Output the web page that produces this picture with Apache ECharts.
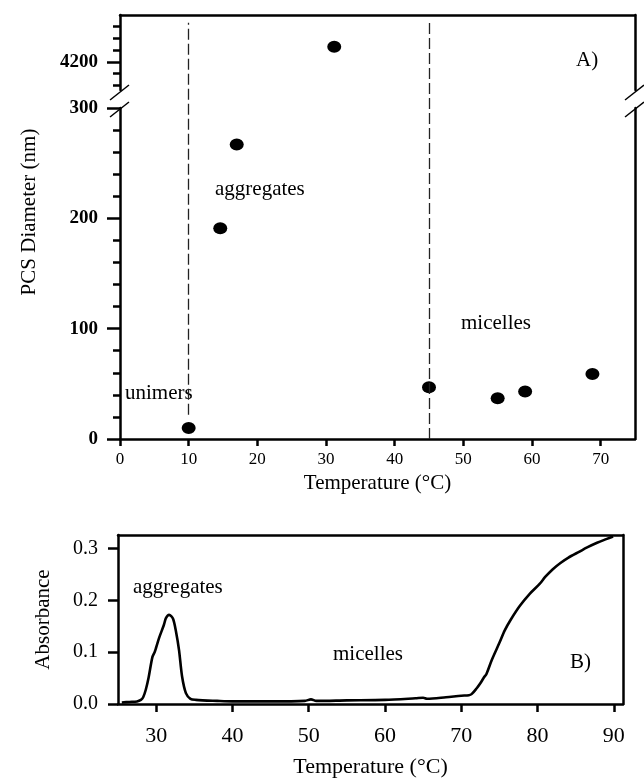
<!DOCTYPE html>
<html>
<head>
<meta charset="utf-8">
<script src="https://cdn.jsdelivr.net/npm/echarts@6/dist/echarts.min.js"></script>
<style>
html,body{margin:0;padding:0;background:#fff;}
#chart{width:644px;height:779px;}
</style>
</head>
<body>
<div id="chart"></div>
<script>
// ---------- Panel A data: PCS diameter vs temperature ----------
const pcsTempLow = [10, 14.6, 17, 45, 55, 59, 68.8];
const pcsDiamLow = [10, 191, 267, 47, 37, 43, 59];
const pcsTempHigh = [31.2];
const pcsDiamHigh = [4265];
const phaseBoundaries = [10, 45];
const xTicksA = [0, 10, 20, 30, 40, 50, 60, 70];
const yMajorHigh = [4200];
const yMinorHigh = [4100, 4150, 4250, 4300, 4350];

// ---------- Panel B data: absorbance vs temperature ----------
const absTemp = [25.5, 26.5, 27.5, 28, 28.3, 28.65, 29, 29.5, 29.8, 30, 30.4, 31, 31.3, 31.7, 32.2, 32.6, 33, 33.4, 33.9, 34.5, 35.2, 38, 40, 45, 49.5, 50.3, 51, 55, 60, 64, 65, 65.5, 68, 70, 71, 71.35, 72, 72.5, 73, 73.3, 74, 75, 75.7, 76.5, 77.66, 79, 80.3, 81, 82, 83, 84, 85.5, 86.5, 87.8, 89, 89.9];
const absVal  = [0.003, 0.004, 0.005, 0.008, 0.013, 0.028, 0.05, 0.09, 0.1, 0.109, 0.128, 0.152, 0.166, 0.172, 0.165, 0.14, 0.104, 0.053, 0.021, 0.01, 0.008, 0.006, 0.005, 0.005, 0.006, 0.009, 0.006, 0.007, 0.008, 0.011, 0.012, 0.01, 0.013, 0.016, 0.017, 0.019, 0.03, 0.04, 0.052, 0.058, 0.085, 0.118, 0.142, 0.163, 0.189, 0.213, 0.232, 0.245, 0.26, 0.272, 0.282, 0.294, 0.302, 0.311, 0.318, 0.323];
const xTicksB = [30, 40, 50, 60, 70, 80, 90];
const yTicksB = [0, 0.1, 0.2, 0.3];

const FONT = 'Liberation Serif, Times New Roman, serif';
const BLACK = '#000';
const LW = 2.5;

const zipPts = (xs, ys) => xs.map((x, i) => [x, ys[i]]);

const chart = echarts.init(document.getElementById('chart'), null, {renderer: 'canvas'});

const A = {left: 120, width: 515, topHigh: 15, hHigh: 75, topLow: 108, hLow: 331};
const B = {left: 118, width: 505, top: 535, height: 173};

const lineStyleAxis = {show: true, onZero: false, lineStyle: {color: BLACK, width: LW}};
const borderAxis = (extra) => Object.assign({
  axisLine: lineStyleAxis,
  axisTick: {show: false}, axisLabel: {show: false}, splitLine: {show: false}
}, extra);

const option = {
  backgroundColor: '#fff',
  animation: false,
  grid: [
    {left: A.left, top: A.topHigh, width: A.width, height: A.hHigh},
    {left: A.left, top: A.topLow, width: A.width, height: A.hLow},
    {left: A.left, top: A.topHigh, width: A.width, height: A.topLow + A.hLow - A.topHigh},
    {left: B.left, top: B.top, width: B.width, height: B.height}
  ],
  xAxis: [
    borderAxis({type: 'value', gridIndex: 0, position: 'top', min: 0, max: 75}),
    {
      type: 'value', gridIndex: 1, position: 'bottom', min: 0, max: 75,
      axisLine: lineStyleAxis,
      axisTick: {show: true, length: 7, lineStyle: {color: BLACK, width: 2.5}, customValues: xTicksA},
      axisLabel: {show: true, color: BLACK, fontFamily: FONT, fontSize: 17, margin: 12, customValues: xTicksA},
      splitLine: {show: false},
      name: 'Temperature (°C)', nameLocation: 'middle', nameGap: 34,
      nameTextStyle: {color: BLACK, fontFamily: FONT, fontSize: 21}
    },
    {type: 'value', gridIndex: 2, min: 0, max: 75, show: false},
    {
      type: 'value', gridIndex: 3, position: 'bottom', min: 25, max: 91.2,
      axisLine: lineStyleAxis,
      axisTick: {show: true, length: 8, lineStyle: {color: BLACK, width: 2.5}, customValues: xTicksB},
      axisLabel: {show: true, color: BLACK, fontFamily: FONT, fontSize: 22, margin: 21, customValues: xTicksB},
      splitLine: {show: false},
      name: 'Temperature (°C)', nameLocation: 'middle', nameGap: 52,
      nameTextStyle: {color: BLACK, fontFamily: FONT, fontSize: 22}
    },
    borderAxis({type: 'value', gridIndex: 3, position: 'top', min: 25, max: 91.2})
  ],
  yAxis: [
    {
      type: 'value', gridIndex: 0, position: 'left', min: 4080, max: 4400,
      axisLine: lineStyleAxis,
      axisTick: {show: true, length: 13, lineStyle: {color: BLACK, width: 2.5}, customValues: yMajorHigh},
      axisLabel: {show: true, color: BLACK, fontFamily: FONT, fontSize: 19, fontWeight: 'bold', margin: 22,
        customValues: yMajorHigh, formatter: v => String(v)},
      splitLine: {show: false}
    },
    {
      type: 'value', gridIndex: 0, position: 'left', min: 4080, max: 4400,
      axisLine: {show: false, onZero: false},
      axisTick: {show: true, length: 7, lineStyle: {color: BLACK, width: 2.5}, customValues: yMinorHigh},
      axisLabel: {show: false}, splitLine: {show: false}
    },
    borderAxis({type: 'value', gridIndex: 0, position: 'right', min: 4080, max: 4400}),
    {
      type: 'value', gridIndex: 1, position: 'left', min: 0, max: 300, interval: 100,
      axisLine: lineStyleAxis,
      axisTick: {show: true, length: 13, lineStyle: {color: BLACK, width: 2.5}},
      minorTick: {show: true, splitNumber: 5, length: 7, lineStyle: {color: BLACK, width: 2.5}},
      axisLabel: {show: true, color: BLACK, fontFamily: FONT, fontSize: 19, fontWeight: 'bold', margin: 22,
        formatter: v => String(v)},
      splitLine: {show: false}, minorSplitLine: {show: false}
    },
    borderAxis({type: 'value', gridIndex: 1, position: 'right', min: 0, max: 300}),
    {type: 'value', gridIndex: 2, min: 0, max: 1, show: false},
    {
      type: 'value', gridIndex: 3, position: 'left', min: 0, max: 0.326,
      axisLine: lineStyleAxis,
      axisTick: {show: true, length: 10, lineStyle: {color: BLACK, width: 2.5}, customValues: yTicksB},
      axisLabel: {show: true, color: BLACK, fontFamily: FONT, fontSize: 20, margin: 20, customValues: yTicksB,
        formatter: v => v.toFixed(1)},
      splitLine: {show: false},
      name: 'Absorbance', nameLocation: 'middle', nameGap: 64, nameRotate: 90,
      nameTextStyle: {color: BLACK, fontFamily: FONT, fontSize: 21}
    },
    borderAxis({type: 'value', gridIndex: 3, position: 'right', min: 0, max: 0.326})
  ],
  series: [
    {
      type: 'scatter', xAxisIndex: 1, yAxisIndex: 3,
      data: zipPts(pcsTempLow, pcsDiamLow),
      symbol: 'circle', symbolSize: [14, 12],
      itemStyle: {color: BLACK, opacity: 1}, clip: false
    },
    {
      type: 'scatter', xAxisIndex: 0, yAxisIndex: 0,
      data: zipPts(pcsTempHigh, pcsDiamHigh),
      symbol: 'circle', symbolSize: [14, 12],
      itemStyle: {color: BLACK, opacity: 1}, clip: false
    },
    {
      type: 'line', xAxisIndex: 2, yAxisIndex: 5, data: [],
      markLine: {
        silent: true, symbol: 'none', label: {show: false},
        lineStyle: {color: '#222', width: 1.3, type: [11, 4]},
        data: [
          [{coord: [phaseBoundaries[0], 0.057]}, {coord: [phaseBoundaries[0], 0.982]}],
          [{coord: [phaseBoundaries[1], 0.0]}, {coord: [phaseBoundaries[1], 0.987]}]
        ]
      }
    },
    {
      type: 'line', xAxisIndex: 3, yAxisIndex: 6,
      data: zipPts(absTemp, absVal),
      showSymbol: false, smooth: 0.3,
      lineStyle: {color: BLACK, width: 2.6}
    }
  ],
  graphic: [
    {type: 'text', x: 29, y: 212, rotation: Math.PI / 2,
      style: {text: 'PCS Diameter (nm)', font: '21px ' + FONT, fill: BLACK, textAlign: 'center', textVerticalAlign: 'middle', align: 'center', verticalAlign: 'middle'}},
    // axis break marks
    {type: 'line', shape: {x1: 110, y1: 100, x2: 129, y2: 85}, style: {stroke: BLACK, lineWidth: 1.5}},
    {type: 'line', shape: {x1: 110, y1: 117, x2: 129, y2: 102}, style: {stroke: BLACK, lineWidth: 1.5}},
    {type: 'line', shape: {x1: 625, y1: 100, x2: 644, y2: 85}, style: {stroke: BLACK, lineWidth: 1.5}},
    {type: 'line', shape: {x1: 625, y1: 117, x2: 644, y2: 102}, style: {stroke: BLACK, lineWidth: 1.5}},
    // annotations
    {type: 'text', x: 576, y: 60, style: {text: 'A)', font: '21px ' + FONT, fill: BLACK, textVerticalAlign: 'middle', verticalAlign: 'middle'}},
    {type: 'text', x: 215, y: 189, style: {text: 'aggregates', font: '21px ' + FONT, fill: BLACK, textVerticalAlign: 'middle', verticalAlign: 'middle'}},
    {type: 'text', x: 461, y: 323, style: {text: 'micelles', font: '21px ' + FONT, fill: BLACK, textVerticalAlign: 'middle', verticalAlign: 'middle'}},
    {type: 'text', x: 125, y: 393, style: {text: 'unimers', font: '21px ' + FONT, fill: BLACK, textVerticalAlign: 'middle', verticalAlign: 'middle'}},
    {type: 'text', x: 133, y: 587, style: {text: 'aggregates', font: '21px ' + FONT, fill: BLACK, textVerticalAlign: 'middle', verticalAlign: 'middle'}},
    {type: 'text', x: 333, y: 654, style: {text: 'micelles', font: '21px ' + FONT, fill: BLACK, textVerticalAlign: 'middle', verticalAlign: 'middle'}},
    {type: 'text', x: 570, y: 662, style: {text: 'B)', font: '21px ' + FONT, fill: BLACK, textVerticalAlign: 'middle', verticalAlign: 'middle'}}
  ]
};

chart.setOption(option);
</script>
</body>
</html>
